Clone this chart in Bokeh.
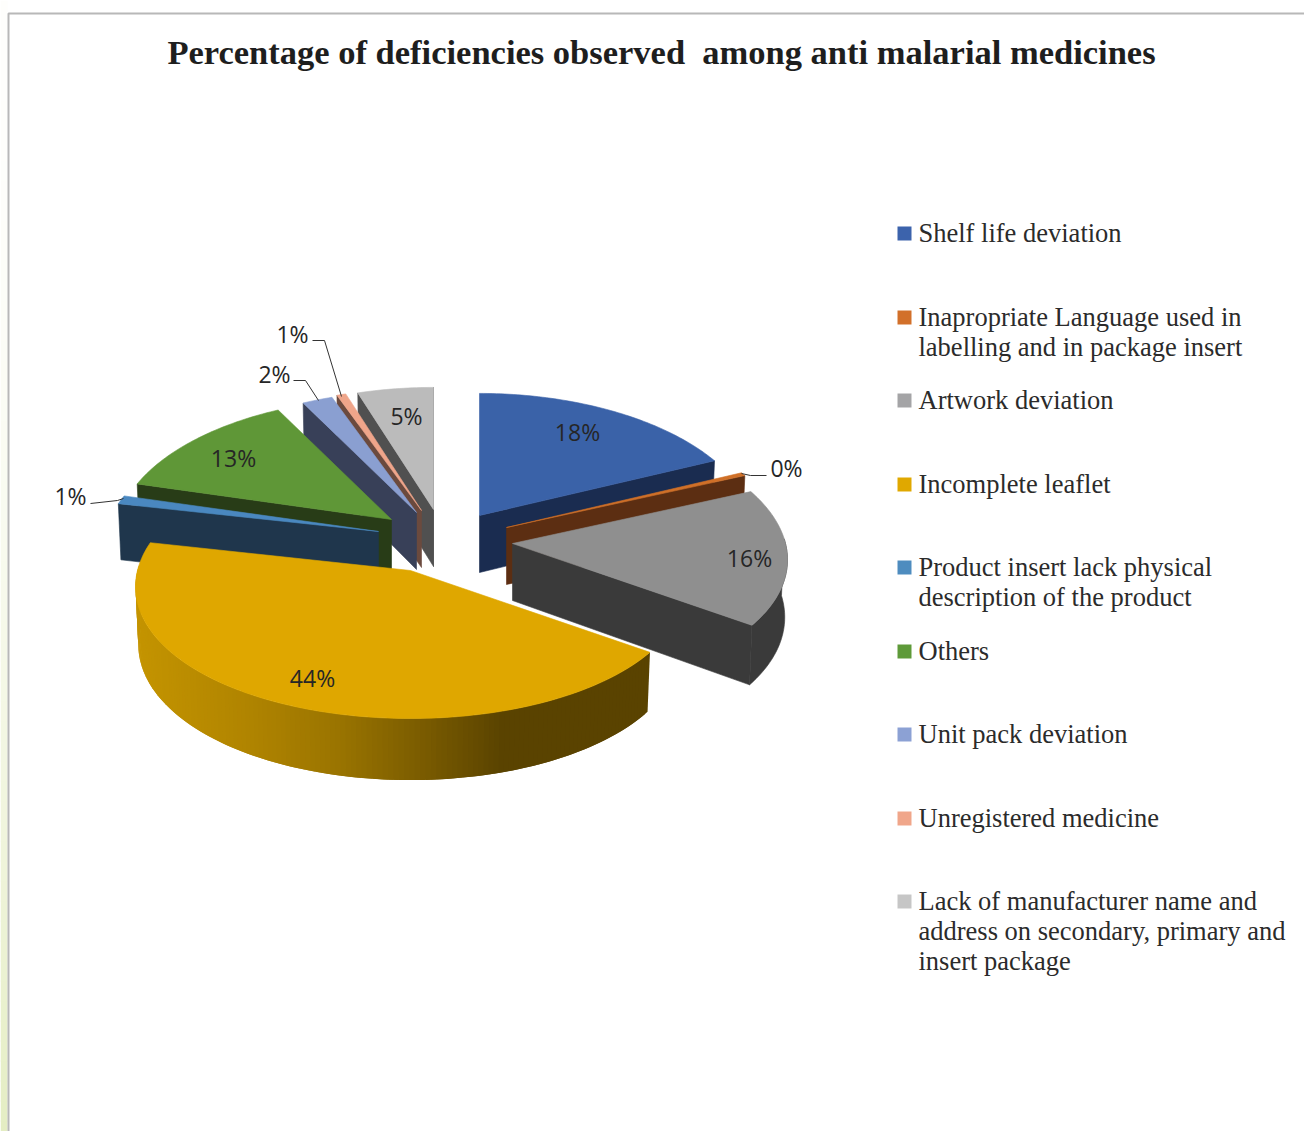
import math

from bokeh.core.properties import value
from bokeh.embed import file_html
from bokeh.models import ColumnDataSource
from bokeh.plotting import figure
from bokeh.resources import INLINE

TITLE = "Percentage of deficiencies observed \u00a0among anti malarial medicines"

categories = [
    "Shelf life deviation",
    "Inapropriate Language used in\nlabelling and in package insert",
    "Artwork deviation",
    "Incomplete leaflet",
    "Product insert lack physical\ndescription of the product",
    "Others",
    "Unit pack deviation",
    "Unregistered medicine",
    "Lack of manufacturer name and\naddress on secondary, primary and\ninsert package",
]
percent = [18, 0.4, 16.4, 43.6, 1, 13, 2, 0.6, 5]

top_colors = ["#3A62A8", "#D07028", "#8F8F8F", "#DFA700", "#4A88C0",
              "#5F9737", "#8A9FD1", "#EFA58A", "#BBBBBB"]
side_colors = ["#1A2C50", "#5C2E12", "#3A3A3A", "#5A4300", "#1F364C",
               "#283C17", "#384058", "#6B4A3E", "#505050"]
legend_colors = ["#3C63AC", "#D2702A", "#A4A4A6", "#E0A800", "#4E8CBF",
                 "#5E9A39", "#8CA1D4", "#F0A68A", "#C6C6C6"]

# Where each exploded wedge has its tip on the page, and where its label sits.
tips = [(479, 515), (506, 527), (512, 543), (410, 570), (378, 531),
        (391, 519), (416, 512), (421, 510), (433, 509)]
label_at = [(577, 431), (786, 467), (749, 557), (312, 677), (70, 495),
            (233, 457), (274, 373), (292, 333), (406, 415)]
leaders = [
    None,
    [(741, 473), (750, 475), (766, 475)],
    None,
    None,
    [(90, 503), (117, 500), (123, 498)],
    None,
    [(293, 380), (305, 380), (318, 400)],
    [(312, 340), (324, 340), (341, 396)],
    None,
]
legend_y = [233, 317, 400, 484, 567, 651, 734, 818, 901]

# Pie projection: a tilted disc with mild perspective, near edge larger.
RADIUS_X = 273.0
RADIUS_Y = 133.8
PERSPECTIVE_X = 0.12
PERSPECTIVE_Y = 0.096
DEPTH = 57.0
BOTTOM_SHRINK = 0.99
RIM_FROM, RIM_TO = 88.0, 272.0

# Shading across the rim of the large front wedge.
RIM_SHADE = [(136, (196, 148, 0)), (250, (176, 132, 0)), (340, (154, 116, 0)),
             (420, (124, 93, 0)), (505, (90, 67, 0)), (660, (90, 67, 0))]


def disc_offset(deg):
    t = math.radians(deg)
    across, toward = math.sin(t), -math.cos(t)
    wx = 1.0 / (1.0 - PERSPECTIVE_X * toward)
    wy = 1.0 / (1.0 - PERSPECTIVE_Y * toward)
    return RADIUS_X * across * wx, RADIUS_Y * toward * wy, wy


def rim_top(tip, deg):
    dx, dy, _ = disc_offset(deg)
    return tip[0] + dx, tip[1] + dy


def rim_bottom(tip, deg):
    dx, dy, wy = disc_offset(deg)
    return tip[0] + BOTTOM_SHRINK * dx, tip[1] + BOTTOM_SHRINK * dy + DEPTH * wy


def arc_degrees(a0, a1, step=1.0):
    n = max(2, int(math.ceil((a1 - a0) / step)) + 1)
    return [a0 + (a1 - a0) * i / (n - 1) for i in range(n)]


def shade_at(x):
    for (x0, c0), (x1, c1) in zip(RIM_SHADE, RIM_SHADE[1:]):
        if x <= x1:
            f = max(0.0, (x - x0) / (x1 - x0))
            return "#%02X%02X%02X" % tuple(round(a + (b - a) * f) for a, b in zip(c0, c1))
    return "#5A4300"


def new_layer():
    return {"xs": [], "ys": [], "fill": []}


def add_poly(layer, points, color):
    layer["xs"].append([q[0] for q in points])
    layer["ys"].append([q[1] for q in points])
    layer["fill"].append(color)


total = sum(percent)
spans = []
running = 0.0
for v in percent:
    spans.append((running, running + v / total * 360.0))
    running = spans[-1][1]

back_wedges = new_layer()
shaded_rim = new_layer()
front_top = new_layer()

# Back wedges first, the large front wedge last.
for i in [8, 7, 6, 5, 4, 0, 1, 2, 3]:
    a0, a1 = spans[i]
    tip = tips[i]
    tip_low = (tip[0], tip[1] + DEPTH)
    for edge, faces_viewer in ((a0, math.sin(math.radians(a0)) < 0),
                               (a1, math.sin(math.radians(a1)) > 0)):
        if faces_viewer:
            add_poly(back_wedges, [tip, rim_top(tip, edge), rim_bottom(tip, edge), tip_low], side_colors[i])
    lo, hi = max(a0, RIM_FROM), min(a1, RIM_TO)
    if i == 3:
        # Overlapping strips painted in turn, so no seams show between the shades.
        degs = arc_degrees(lo, hi, 1.0)
        for k in range(len(degs) - 1):
            d0, d1 = degs[k], degs[min(k + 2, len(degs) - 1)]
            mid = rim_top(tip, degs[k])[0]
            add_poly(shaded_rim, [rim_top(tip, d0), rim_top(tip, d1), rim_bottom(tip, d1), rim_bottom(tip, d0)],
                     shade_at(mid))
        add_poly(front_top, [tip] + [rim_top(tip, d) for d in arc_degrees(a0, a1)], top_colors[i])
        continue
    if hi > lo:
        degs = arc_degrees(lo, hi)
        add_poly(back_wedges, [rim_top(tip, d) for d in degs] +
                 [rim_bottom(tip, d) for d in reversed(degs)], side_colors[i])
    add_poly(back_wedges, [tip] + [rim_top(tip, d) for d in arc_degrees(a0, a1)], top_colors[i])

p = figure(width=1304, height=1131, x_range=(0, 1304), y_range=(1131, 0),
           output_backend="svg", toolbar_location=None, min_border=0,
           background_fill_color="white", border_fill_color="white")
p.axis.visible = False
p.grid.visible = False
p.outline_line_color = None

# Page margin tint and the chart frame.
strip_y = list(range(0, 1131, 20))
strip_colors = []
for y in strip_y:
    f = (y / 1131.0) ** 1.9
    strip_colors.append("#%02X%02X%02X" % (round(254 - 26 * f), round(254 - 17 * f), round(252 - 58 * f)))
p.quad(left=0, right=7, top=strip_y, bottom=[y + 21 for y in strip_y],
       fill_color=strip_colors, line_color=None)
p.line([8, 8, 1304], [1131, 13, 13], line_color="#B8B8B8", line_width=2)

p.patches("xs", "ys", fill_color="fill", line_color="fill", line_width=0.6,
          source=ColumnDataSource(back_wedges))
p.patches("xs", "ys", fill_color="fill", line_color=None, source=ColumnDataSource(shaded_rim))
p.patches("xs", "ys", fill_color="fill", line_color="fill", line_width=0.6,
          source=ColumnDataSource(front_top))

for path in leaders:
    if path:
        p.line([q[0] for q in path], [q[1] for q in path], line_color="#333333", line_width=1)

p.text(x=[q[0] for q in label_at], y=[q[1] for q in label_at],
       text=[f"{round(v)}%" for v in percent],
       text_font=value("Open Sans"), text_font_size="23px", text_color="#262626",
       text_align="center", text_baseline="middle")

p.text(x=[661], y=[51], text=[TITLE], text_font=value("Liberation Serif"),
       text_font_style="bold", text_font_size="34.5px", text_color="#1E1E1E",
       text_align="center", text_baseline="middle")

LINE_GAP = 30
for label, y, color in zip(categories, legend_y, legend_colors):
    p.quad(left=[897], right=[911], top=[y - 7], bottom=[y + 7], fill_color=color, line_color=None)
    lines = label.split("\n")
    p.text(x=[918] * len(lines), y=[y - 1 + j * LINE_GAP for j in range(len(lines))], text=lines,
           text_font=value("Liberation Serif"), text_font_size="26.5px", text_color="#2B2B2B",
           text_align="left", text_baseline="middle")

open("out.html", "w").write(file_html(p, INLINE))
